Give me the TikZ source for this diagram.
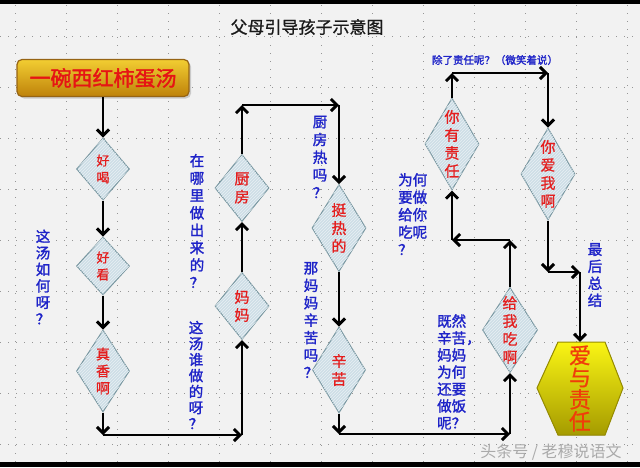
\documentclass[tikz,border=0pt]{standalone}
\usepackage{fontspec}
\newfontfamily\cjk{Noto Sans CJK SC}
\newfontfamily\cjkm{Noto Sans CJK SC}[FakeBold=0.9]
\newfontfamily\cjkb{Noto Sans CJK SC}[FakeBold=1.6]
\usetikzlibrary{arrows.meta,shapes.geometric,patterns,shadows}
\definecolor{bg}{RGB}{242,242,242}
\definecolor{gridc}{RGB}{150,150,150}
\definecolor{qblue}{RGB}{30,35,200}
\definecolor{dred}{RGB}{228,30,30}
\definecolor{diafill}{RGB}{205,222,230}
\definecolor{diaedge}{RGB}{120,150,160}
\tikzset{
  gridline/.style={gridc, line width=1pt, dash pattern=on 1pt off 7pt},
  dia/.style={diamond, draw=diaedge, line width=1pt, fill=diafill, inner sep=0pt,
    postaction={pattern=north east lines, pattern color=white!55!diafill}},
  dtext/.style={text=dred, align=center, font=\cjkm\fontsize{15}{18}\selectfont},
  qtext/.style={text=qblue, align=center, font=\cjkb\fontsize{14.5}{17.4}\selectfont},
  arr/.style={line width=2.9pt, -{Straight Barb[length=6pt,width=12pt]}},
}
\begin{document}
\begin{tikzpicture}[x=1pt,y=-1pt]
\useasboundingbox (0,0) rectangle (640,467);
\fill[bg] (0,0) rectangle (640,467);
\foreach \i in {0,...,12} \draw[gridline] (15+51*\i,5) -- (15+51*\i,462);
\foreach \j in {0,...,8} \draw[gridline] (0,36+51*\j) -- (640,36+51*\j);
\fill[black] (0,0) rectangle (640,4);
\fill[black] (0,462) rectangle (640,467);

% title
\node[font=\cjkm\fontsize{17}{17}\selectfont, text={rgb,255:red,25;green,25;blue,25}] (title) at (307,27) {父母引导孩子示意图};

% gold box
\node[rounded corners=5pt, draw={rgb,255:red,150;green,100;blue,20}, line width=1.2pt,
  minimum width=172pt, minimum height=37pt,
  top color={rgb,255:red,242;green,205;blue,50}, middle color={rgb,255:red,236;green,186;blue,30},
  bottom color={rgb,255:red,190;green,130;blue,10},
  drop shadow={shadow xshift=2pt, shadow yshift=-2pt, opacity=0.35},
  text={rgb,255:red,230;green,20;blue,20}, font=\cjkb\fontsize{21}{21}\selectfont]
  (box) at (103,78) {一碗西红柿蛋汤};

% diamonds
\node[dia, minimum width=53pt, minimum height=62pt] (d1) at (103,169) {};
\node[dia, minimum width=53pt, minimum height=58pt] (d2) at (103,266) {};
\node[dia, minimum width=53pt, minimum height=82pt] (d3) at (103,371) {};
\node[dia, minimum width=54pt, minimum height=67pt] (d4) at (242,306) {};
\node[dia, minimum width=54pt, minimum height=67pt] (d5) at (242,188) {};
\node[dia, minimum width=54pt, minimum height=87pt] (d6) at (339,228) {};
\node[dia, minimum width=53pt, minimum height=86pt] (d7) at (339,370) {};
\node[dia, minimum width=55pt, minimum height=85pt] (d8) at (510,330) {};
\node[dia, minimum width=54pt, minimum height=92pt] (d9) at (452,144) {};
\node[dia, minimum width=54pt, minimum height=92pt] (d10) at (548,174) {};

\node[dtext, font=\cjkm\fontsize{13}{17}\selectfont] (t1) at (d1) {好\\喝};
\node[dtext, font=\cjkm\fontsize{13}{17}\selectfont] (t2) at (d2) {好\\看};
\node[dtext, font=\cjkm\fontsize{14}{17}\selectfont] (t3) at (d3) {真\\香\\啊};
\node[dtext] (t4) at (d4) {妈\\妈};
\node[dtext] (t5) at (d5) {厨\\房};
\node[dtext] (t6) at (d6) {挺\\热\\的};
\node[dtext] (t7) at (d7) {辛\\苦};
\node[dtext] (t8) at (d8) {给\\我\\吃\\啊};
\node[dtext] (t9) at (d9) {你\\有\\责\\任};
\node[dtext] (t10) at (d10) {你\\爱\\我\\啊};

% hexagon
\filldraw[draw={rgb,255:red,150;green,140;blue,0}, line width=1pt,
  top color={rgb,255:red,250;green,245;blue,20}, middle color={rgb,255:red,240;green,230;blue,0},
  bottom color={rgb,255:red,165;green,155;blue,0}]
  (537,388) -- (558,342) -- (605,342) -- (623,388) -- (605,435) -- (558,435) -- cycle;
\node[minimum width=86pt, minimum height=93pt, inner sep=0pt, align=center,
  text={rgb,255:red,240;green,60;blue,10}, font=\cjkm\fontsize{22}{22}\selectfont]
  (hex) at (580,388.5) {爱\\与\\责\\任};

% corner coordinates
\coordinate (c1) at (103,435);
\coordinate (c2) at (242,435);
\coordinate (c3) at (242,105);
\coordinate (c4) at (339,105);
\coordinate (c5) at (339,434);
\coordinate (c6) at (510,434);
\coordinate (c7) at (510,240);
\coordinate (c8) at (452,240);
\coordinate (c9) at (452,73);
\coordinate (c10) at (548,73);
\coordinate (c11) at (548,272);
\coordinate (c12) at (580,272);

% connectors
\draw[arr] (box.south) -- (d1.north);
\draw[arr] (d1.south) -- (d2.north);
\draw[arr] (d2.south) -- (d3.north);
\draw[arr] (d3.south) -- (c1);
\draw[arr] (c1) -- (c2);
\draw[arr] (c2) -- (d4.south);
\draw[arr] (d4.north) -- (d5.south);
\draw[arr] (d5.north) -- (c3);
\draw[arr] (c3) -- (c4);
\draw[arr] (c4) -- (d6.north);
\draw[arr] (d6.south) -- (d7.north);
\draw[arr] (d7.south) -- (c5);
\draw[arr] (c5) -- (c6);
\draw[arr] (c6) -- (d8.south);
\draw[arr] (d8.north) -- (c7);
\draw[arr] (c7) -- (c8);
\draw[arr] (c8) -- (d9.south);
\draw[arr] (d9.north) -- (c9);
\draw[arr] (c9) -- (c10);
\draw[arr] (c10) -- (d10.north);
\draw[arr] (d10.south) -- (c11);
\draw[arr] (c11) -- (c12);
\draw[arr] (c12) -- (hex.north);

% question texts
\node[qtext, font=\cjkb\fontsize{14.5}{16.5}\selectfont] (q1) at (43,277) {这\\汤\\如\\何\\呀\\？};
\node[qtext] (q2) at (197,221) {在\\哪\\里\\做\\出\\来\\的\\？};
\node[qtext, font=\cjkb\fontsize{14.5}{16}\selectfont] (q3) at (196,375) {这\\汤\\谁\\做\\的\\呀\\？};
\node[qtext, font=\cjkb\fontsize{14.5}{17.7}\selectfont] (q4) at (320,157) {厨\\房\\热\\吗\\？};
\node[qtext] (q5) at (311,320) {那\\妈\\妈\\辛\\苦\\吗\\？};
\node[qtext, align=left, anchor=north west, inner sep=0pt] (q6) at (398,173) {为何\\要做\\给你\\吃呢\\？};
\node[qtext, align=left, anchor=north west, inner sep=0pt, font=\cjkb\fontsize{14.5}{17}\selectfont] (q7) at (437,314) {既然\\辛苦，\\妈妈\\为何\\还要\\做饭\\呢？};
\node[qtext, font=\cjkb\fontsize{14.5}{17}\selectfont] (q8) at (595,275) {最\\后\\总\\结};
\node[text=qblue, font=\cjkb\fontsize{10.5}{12}\selectfont] (q9) at (495,60) {除了责任呢？（微笑着说）};

% watermark
\node[text={rgb,255:red,170;green,170;blue,170}, font=\cjk\fontsize{16}{16}\selectfont] (wm) at (551,452) {头条号 / 老穆说语文};
\end{tikzpicture}
\end{document}
